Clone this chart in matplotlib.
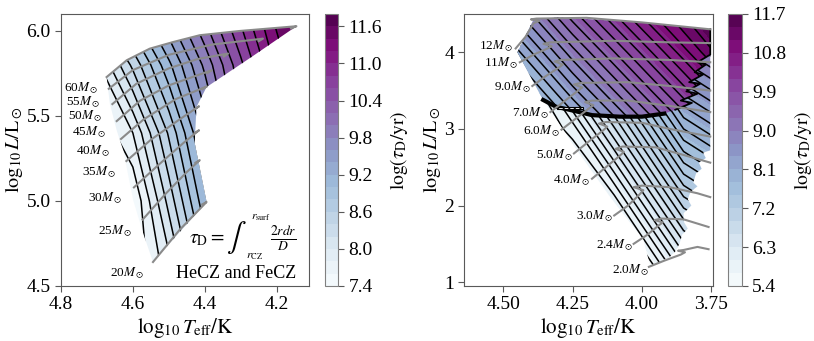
import numpy as np
import matplotlib.pyplot as plt
from matplotlib.patches import Polygon

plt.rcParams['font.family'] = 'serif'
plt.rcParams['font.serif'] = ['Liberation Serif', 'DejaVu Serif']
plt.rcParams['mathtext.fontset'] = 'stix'

# ---------------- left panel: massive stars (HeCZ + FeCZ) ----------------
left_grid_T = [4.70, 4.60, 4.50, 4.40, 4.30, 4.20, 4.10]
left_grid_L = [4.6, 5.0, 5.4, 5.8, 6.1]
left_tau = [
    [6.17, 7.04, 7.91, 8.78, 9.65, 10.52, 11.39],
    [6.53, 7.40, 8.27, 9.14, 10.01, 10.88, 11.75],
    [6.97, 7.80, 8.63, 9.46, 10.29, 11.12, 11.95],
    [7.75, 8.45, 9.15, 9.85, 10.55, 11.25, 11.95],
    [8.38, 9.00, 9.62, 10.24, 10.86, 11.48, 12.10],
]
left_edge_T = [4.673, 4.617, 4.553, 4.488, 4.414, 4.303, 4.145, 4.270, 4.395,
               4.423, 4.428, 4.405, 4.395, 4.544, 4.571, 4.599, 4.627, 4.645, 4.664]
left_edge_L = [5.729, 5.828, 5.896, 5.935, 5.975, 6.000, 6.028, 5.847, 5.670,
               5.553, 5.340, 5.100, 4.994, 4.641, 4.808, 5.004, 5.300, 5.416, 5.573]

left_masses = ['60', '55', '50', '45', '40', '35', '30', '25', '20']
left_track_T = [
    [4.673, 4.617, 4.553, 4.488, 4.414, 4.303, 4.145, 4.160],
    [4.667, 4.600, 4.500, 4.380, 4.238, 4.250],
    [4.657, 4.590, 4.500, 4.420, 4.335, 4.347],
    [4.645, 4.580, 4.500, 4.381, 4.393],
    [4.633, 4.570, 4.480, 4.394, 4.406],
    [4.618, 4.550, 4.470, 4.416, 4.428],
    [4.597, 4.530, 4.460, 4.416, 4.428],
    [4.573, 4.510, 4.450, 4.414, 4.426],
    [4.544, 4.470, 4.395, 4.407],
]
left_track_L = [
    [5.729, 5.828, 5.896, 5.935, 5.975, 6.000, 6.028, 6.015],
    [5.660, 5.770, 5.860, 5.920, 5.955, 5.940],
    [5.570, 5.690, 5.780, 5.835, 5.867, 5.850],
    [5.470, 5.590, 5.680, 5.769, 5.752],
    [5.365, 5.480, 5.600, 5.674, 5.657],
    [5.235, 5.360, 5.480, 5.557, 5.540],
    [5.080, 5.210, 5.340, 5.416, 5.400],
    [4.890, 5.040, 5.170, 5.240, 5.225],
    [4.641, 4.830, 4.994, 4.980],
]
left_label_T = [4.696, 4.692, 4.684, 4.673, 4.662, 4.647, 4.629, 4.602, 4.567]
left_label_L = [5.665, 5.582, 5.500, 5.402, 5.292, 5.167, 5.014, 4.824, 4.573]

# ---------------- right panel: intermediate-mass stars ----------------
low_grid_T = [4.50, 4.25, 4.10, 3.95, 3.85, 3.75]
low_grid_L = [1.0, 2.0, 3.0, 4.0, 4.5]
low_tau = [
    [2.66, 3.94, 4.70, 5.47, 5.98, 6.20],
    [3.61, 4.89, 5.65, 6.42, 6.93, 7.15],
    [4.56, 5.84, 6.60, 7.37, 7.88, 8.10],
    [5.51, 6.79, 7.55, 8.32, 8.83, 9.05],
    [5.99, 7.27, 8.03, 8.80, 9.31, 9.53],
]
up_grid_T = [4.50, 4.25, 4.00, 3.75]
up_grid_L = [3.0, 3.5, 4.0, 4.5]
up_tau = [
    [6.61, 7.83, 8.95, 10.07],
    [7.21, 8.43, 9.55, 10.67],
    [7.80, 9.02, 10.14, 11.26],
    [8.40, 9.62, 10.74, 11.86],
]
right_edge_T = [4.449, 4.390, 4.300, 4.000, 3.754, 3.754, 3.780, 3.770, 3.795, 3.785,
                3.805, 3.815, 3.800, 3.825, 3.835, 3.822, 3.850, 3.848, 3.835, 3.855,
                3.865, 3.880, 3.900, 3.940, 3.970, 3.995, 4.115, 4.235, 4.356]
right_edge_L = [4.000, 4.430, 4.455, 4.390, 4.300, 2.720, 2.690, 2.620, 2.560, 2.480,
                2.420, 2.300, 2.250, 2.180, 2.080, 2.000, 1.900, 1.780, 1.700, 1.620,
                1.500, 1.400, 1.330, 1.260, 1.210, 1.552, 2.117, 2.726, 3.378]
upper_edge_T = [4.356, 4.449, 4.390, 4.300, 4.000, 3.754, 3.754, 3.800, 3.770, 3.810,
                3.780, 3.830, 3.790, 3.840, 3.800, 3.860, 3.820, 3.880, 3.920, 4.000,
                4.080, 4.180, 4.250, 4.310]
upper_edge_L = [3.378, 4.000, 4.430, 4.455, 4.390, 4.300, 3.970, 3.870, 3.840, 3.740,
                3.710, 3.610, 3.590, 3.490, 3.460, 3.370, 3.340, 3.250, 3.200, 3.160,
                3.160, 3.180, 3.240, 3.290]
hatch_T = [4.307, 4.211, 4.211, 4.307]
hatch_L = [3.255, 3.255, 3.290, 3.290]

right_masses = ['12', '11', '9.0', '7.0', '6.0', '5.0', '4.0', '3.0', '2.4', '2.0']
right_track_T = [
    [4.455, 4.420, 4.390, 4.370, 4.400, 4.380, 4.200, 4.000, 3.754],
    [4.440, 4.390, 4.340, 4.325, 4.355, 4.330, 4.100, 3.900, 3.754],
    [4.395, 4.350, 4.300, 4.285, 4.315, 4.290, 4.100, 3.900, 3.754],
    [4.330, 4.280, 4.230, 4.215, 4.245, 4.220, 4.050, 3.900, 3.754],
    [4.290, 4.240, 4.190, 4.175, 4.205, 4.180, 4.050, 3.900, 3.754],
    [4.245, 4.190, 4.140, 4.125, 4.155, 4.130, 4.000, 3.900, 3.754],
    [4.180, 4.130, 4.080, 4.065, 4.095, 4.070, 3.950, 3.850, 3.754],
    [4.100, 4.050, 4.010, 3.995, 4.030, 4.000, 3.900, 3.800, 3.754],
    [4.030, 3.980, 3.940, 3.925, 3.955, 3.930, 3.850, 3.760],
    [3.975, 3.920, 3.860, 3.845, 3.870, 3.850, 3.800, 3.760],
]
right_track_L = [
    [4.050, 4.200, 4.380, 4.410, 4.430, 4.440, 4.450, 4.390, 4.300],
    [3.870, 3.970, 4.050, 4.080, 4.110, 4.130, 4.150, 4.130, 4.120],
    [3.560, 3.680, 3.800, 3.840, 3.880, 3.900, 3.920, 3.900, 3.870],
    [3.220, 3.360, 3.500, 3.540, 3.580, 3.600, 3.610, 3.560, 3.500],
    [2.990, 3.130, 3.270, 3.310, 3.350, 3.370, 3.370, 3.300, 3.220],
    [2.680, 2.840, 2.980, 3.030, 3.070, 3.090, 3.080, 3.000, 2.900],
    [2.350, 2.500, 2.650, 2.700, 2.740, 2.770, 2.760, 2.660, 2.560],
    [1.870, 2.000, 2.140, 2.200, 2.240, 2.260, 2.240, 2.160, 2.110],
    [1.500, 1.620, 1.740, 1.780, 1.810, 1.830, 1.820, 1.720],
    [1.200, 1.280, 1.360, 1.390, 1.410, 1.420, 1.460, 1.430],
]
right_label_T = [4.464, 4.446, 4.398, 4.334, 4.295, 4.247, 4.184, 4.103, 4.031, 3.973]
right_label_L = [4.074, 3.857, 3.543, 3.204, 2.974, 2.661, 2.335, 1.857, 1.487, 1.161]

left_levels = np.round(np.arange(7.4, 11.8 + 1e-6, 0.2), 2)
right_levels = np.round(np.arange(5.4, 11.7 + 1e-6, 0.3), 2)
low_line_levels = np.round(np.arange(5.5, 9.6, 0.14), 2)
up_line_levels = np.round(np.arange(5.5, 11.7, 0.2), 2)

cmap = plt.get_cmap('BuPu')
track_color = '#8a8a8a'
frame_color = '0.35'

fig = plt.figure(figsize=(8.14, 3.41), dpi=100)
ax1 = fig.add_axes([0.0749, 0.1613, 0.3047, 0.7977])
cax1 = fig.add_axes([0.3993, 0.1613, 0.0160, 0.7977])
ax2 = fig.add_axes([0.5704, 0.1613, 0.3052, 0.7977])
cax2 = fig.add_axes([0.8947, 0.1613, 0.0165, 0.7977])


def clip_patch(ax, T, L):
    p = Polygon(np.column_stack([T, L]), closed=True, fill=False, lw=0)
    ax.add_patch(p)
    return p


def field(ax, gT, gL, tau, levels, line_levels, patch, z):
    Z = np.clip(np.array(tau), levels[0] + 1e-3, levels[-1] - 1e-3)
    cs = ax.contourf(gT, gL, Z, levels=levels, cmap=cmap, zorder=z)
    cs.set_clip_path(patch)
    cl = ax.contour(gT, gL, Z, levels=line_levels, colors='k', linewidths=1.1, zorder=z + 0.5)
    cl.set_clip_path(patch)
    return cs


# left panel
p1 = clip_patch(ax1, left_edge_T, left_edge_L)
cs1 = field(ax1, left_grid_T, left_grid_L, left_tau, left_levels, left_levels[1:-1], p1, 1)
for T, L in zip(left_track_T, left_track_L):
    ax1.plot(T, L, color=track_color, lw=1.5, zorder=5)
for m, x, y in zip(left_masses, left_label_T, left_label_L):
    ax1.text(x, y, m + r'$M_\odot$', ha='right', va='center', fontsize=9.5)

# tau_D formula, built from pieces so the integral sign is large
ax1.text(0.662, 0.172, r'$\tau_{\rm D} =$', transform=ax1.transAxes, ha='right',
         va='center', fontsize=14)
ax1.text(0.705, 0.178, r'$\int$', transform=ax1.transAxes, ha='center', va='center',
         fontsize=21)
ax1.text(0.768, 0.252, r'$r_{\rm surf}$', transform=ax1.transAxes, ha='left',
         va='center', fontsize=8.5)
ax1.text(0.745, 0.112, r'$r_{\rm CZ}$', transform=ax1.transAxes, ha='left',
         va='center', fontsize=8.5)
ax1.text(0.897, 0.176, r'$\frac{2rdr}{D}$', transform=ax1.transAxes, ha='center',
         va='center', fontsize=14)
ax1.text(0.948, 0.046, 'HeCZ and FeCZ', transform=ax1.transAxes, ha='right', va='center',
         fontsize=13)
ax1.set_xlim(4.8, 4.11)
ax1.set_ylim(4.5, 6.1)
ax1.set_xticks([4.8, 4.6, 4.4, 4.2])
ax1.set_yticks([4.5, 5.0, 5.5, 6.0])

# right panel
p2 = clip_patch(ax2, right_edge_T, right_edge_L)
p3 = clip_patch(ax2, upper_edge_T, upper_edge_L)
cs2 = field(ax2, low_grid_T, low_grid_L, low_tau, right_levels, low_line_levels, p2, 1)
field(ax2, up_grid_T, up_grid_L, up_tau, right_levels, up_line_levels, p3, 2)
ax2.plot(upper_edge_T[-6:] + [upper_edge_T[0]], upper_edge_L[-6:] + [upper_edge_L[0]],
         color='k', lw=3, zorder=3)
ax2.plot(upper_edge_T[5:18], upper_edge_L[5:18], color='k', lw=1.3, zorder=3)
ax2.fill(hatch_T, hatch_L, facecolor='white', edgecolor='k', hatch='//////', lw=0.8, zorder=3)
for T, L in zip(right_track_T, right_track_L):
    ax2.plot(T, L, color=track_color, lw=1.5, zorder=5)
for m, x, y in zip(right_masses, right_label_T, right_label_L):
    ax2.text(x, y, m + r'$M_\odot$', ha='right', va='center', fontsize=9.5)
ax2.set_xlim(4.64, 3.745)
ax2.set_ylim(0.95, 4.5)
ax2.set_xticks([4.5, 4.25, 4.0, 3.75])
ax2.set_yticks([1, 2, 3, 4])

for ax in (ax1, ax2):
    ax.set_xlabel(r'$\log_{10}T_{\rm eff}/{\rm K}$', fontsize=15, labelpad=2)
    ax.set_ylabel(r'$\log_{10}L/{\rm L}_\odot$', fontsize=14.5, labelpad=1)
    ax.tick_params(labelsize=14, color=frame_color, length=4)
    for s in ax.spines.values():
        s.set_edgecolor(frame_color)

cb1 = fig.colorbar(cs1, cax=cax1, ticks=[7.4, 8.0, 8.6, 9.2, 9.8, 10.4, 11.0, 11.6])
cb2 = fig.colorbar(cs2, cax=cax2, ticks=[5.4, 6.3, 7.2, 8.1, 9.0, 9.9, 10.8, 11.7])
for cb in (cb1, cb2):
    cb.set_label(r'$\log(\tau_{\rm D}/{\rm yr})$', fontsize=14)
    cb.ax.tick_params(labelsize=14, color=frame_color, length=4)
    cb.outline.set_edgecolor('0.5')

fig.savefig('out.png', dpi=100)
